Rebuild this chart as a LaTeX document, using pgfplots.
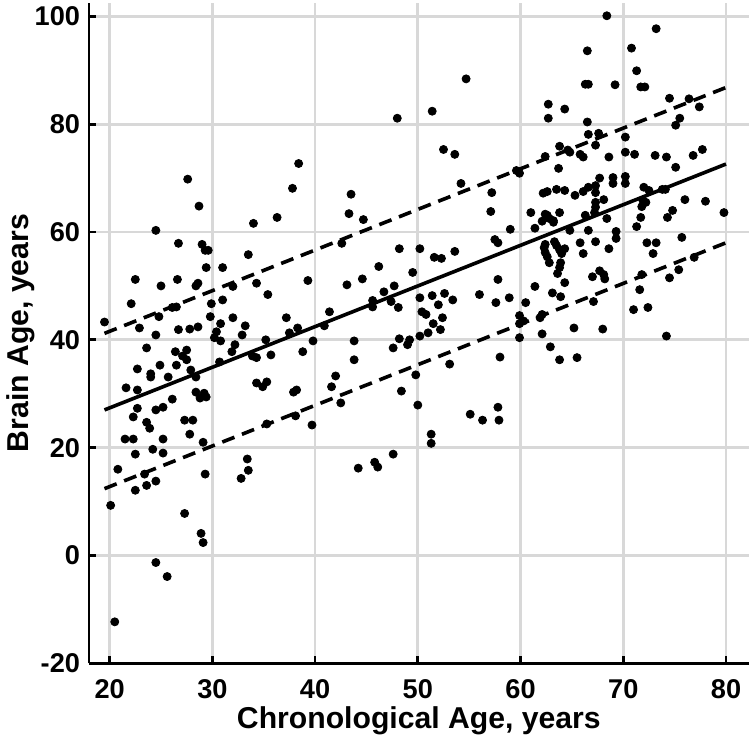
\documentclass[border=0pt]{standalone}
\usepackage{fontspec}
\setmainfont{Liberation Sans}
\usepackage{pgfplots}
\usepackage{pgfplotstable}
\pgfplotsset{compat=1.18}
\definecolor{gridgray}{RGB}{216,216,216}

% chronological age vs predicted brain age
\pgfplotstableread{
x y
27.6 69.8
28.7 64.8
34.0 61.6
36.3 62.7
37.8 68.1
38.4 72.7
24.5 60.3
26.7 57.9
29.0 57.7
29.3 56.6
29.6 56.6
29.4 53.4
31.0 53.4
33.5 55.8
22.5 51.2
25.0 50.0
26.6 51.2
28.4 50.0
28.6 50.5
32.0 49.9
34.3 50.5
35.4 48.4
22.1 46.7
26.1 46.0
26.5 46.1
24.8 44.3
29.9 46.7
31.0 47.4
29.8 44.3
32.0 44.1
30.8 43.0
33.2 42.6
37.2 44.1
19.5 43.3
22.9 42.2
26.7 41.9
27.8 42.0
28.6 42.4
24.5 40.9
30.4 41.5
32.9 40.9
37.5 41.3
38.3 42.2
30.2 40.4
30.8 39.8
35.2 40.0
23.6 38.5
26.4 37.8
27.5 38.1
32.2 39.1
31.9 37.8
27.1 37.0
27.5 36.3
26.5 35.3
24.9 35.3
22.7 34.6
27.9 34.4
30.7 35.9
33.9 37.0
34.3 36.7
35.7 37.2
24.0 33.7
24.0 33.1
25.7 33.1
28.4 33.1
21.6 31.1
22.7 30.7
28.4 30.3
29.2 30.1
28.8 29.2
29.4 29.4
34.3 32.0
34.9 31.3
35.3 32.2
37.9 30.3
26.1 29.0
22.7 27.3
24.5 27.0
25.2 27.5
22.3 25.7
23.6 24.7
23.9 23.6
27.3 25.1
28.1 25.1
27.8 22.5
21.5 21.6
22.3 21.6
25.2 21.6
29.1 21.0
24.2 19.7
35.3 24.4
38.1 25.9
22.5 18.8
25.2 19.0
20.8 16.0
23.4 15.1
23.6 13.0
24.5 13.8
22.5 12.1
29.3 15.1
33.4 17.9
33.5 15.8
32.8 14.3
20.1 9.3
27.3 7.8
28.9 4.1
29.1 2.4
24.5 -1.3
25.6 -3.9
20.5 -12.3
54.7 88.4
51.4 82.4
48.0 81.1
52.5 75.3
53.6 74.4
43.5 67.0
43.3 63.4
44.7 62.3
54.2 69.0
57.2 67.3
57.1 63.8
59.6 71.4
59.9 70.9
59.0 60.5
42.6 57.9
48.2 56.9
50.2 56.9
51.6 55.3
52.3 55.1
53.6 56.4
46.2 53.6
49.5 52.5
39.3 51.0
43.1 50.2
44.6 51.3
47.7 50.0
46.7 48.9
57.5 58.6
57.8 58.0
57.8 51.2
45.6 47.3
45.6 46.1
47.4 47.1
48.1 46.0
50.2 47.8
51.4 48.2
52.0 46.5
52.6 48.6
53.4 47.4
56.0 48.4
57.6 46.9
58.9 47.8
41.4 45.2
50.4 45.2
50.8 44.7
52.4 44.1
51.5 43.0
52.2 41.9
51.0 41.3
50.2 40.7
40.9 42.6
39.8 39.8
38.8 37.8
43.8 39.8
43.8 36.3
48.2 40.2
49.2 40.0
49.0 39.1
47.6 38.5
53.1 35.5
58.0 36.8
59.9 44.5
59.9 43.0
59.9 40.4
42.0 33.3
41.6 31.3
42.5 28.3
38.2 30.7
39.7 24.2
49.8 33.5
48.4 30.5
50.0 27.9
51.3 22.5
51.3 20.8
55.1 26.2
56.3 25.1
57.8 27.5
57.9 25.1
44.2 16.2
45.8 17.3
46.1 16.4
47.6 18.8
68.4 100.1
73.2 97.7
66.5 93.6
70.8 94.1
71.3 89.9
71.7 86.9
72.1 86.9
66.3 87.4
66.6 87.4
69.2 87.3
62.7 83.7
62.7 81.1
64.3 82.8
66.5 80.4
74.5 84.8
76.4 84.7
77.4 83.2
75.5 81.1
75.1 79.8
66.6 78.1
67.6 78.3
70.2 77.6
67.3 76.1
63.8 75.9
64.6 75.2
64.8 74.8
65.8 74.4
66.1 73.9
62.4 74.0
68.6 73.9
70.2 74.8
71.1 74.4
73.1 74.2
74.2 73.9
75.1 72.0
76.8 74.2
77.7 75.3
63.7 71.8
67.7 70.0
69.0 70.1
69.0 69.0
70.2 70.3
70.2 69.0
62.2 67.2
62.6 67.5
63.5 67.9
64.3 67.7
65.3 66.8
66.1 67.5
66.6 68.3
67.3 68.6
67.3 67.3
68.1 66.0
67.3 65.5
67.3 64.6
72.0 68.3
72.5 67.7
73.8 67.9
74.1 67.9
71.9 65.9
72.2 65.5
71.8 64.7
76.0 66.0
78.0 65.7
79.8 63.6
61.0 63.6
62.4 63.3
62.6 63.1
62.8 62.5
63.2 62.1
63.8 63.6
62.1 62.0
66.3 63.1
67.2 63.6
68.4 62.5
74.8 64.0
74.3 62.7
71.7 62.7
71.3 61.0
61.4 60.7
63.2 61.8
64.8 60.3
66.6 60.3
69.3 60.1
69.3 58.8
62.4 57.7
62.3 57.1
62.4 56.2
62.6 55.4
62.8 54.3
63.3 58.2
63.5 57.5
63.8 56.7
64.0 56.0
64.3 56.9
65.8 58.0
66.1 56.0
67.3 58.2
68.6 56.9
63.9 54.3
63.8 53.4
63.6 52.3
72.3 58.0
73.2 58.0
72.9 56.0
75.7 59.0
76.9 55.3
75.4 53.0
74.5 51.5
71.8 52.1
71.6 49.3
71.0 45.6
72.4 46.0
74.2 40.7
67.0 51.7
67.7 52.8
68.1 52.1
68.2 51.3
64.3 50.6
61.4 49.9
63.1 48.7
63.9 48.0
67.1 47.1
60.5 46.9
60.3 43.5
61.9 44.1
62.1 44.7
62.1 41.1
62.9 38.7
63.8 36.3
65.2 42.2
65.5 36.7
68.0 42.0
}\brainage

\begin{document}
\begin{tikzpicture}
\begin{axis}[
  scale only axis, width=328pt, height=328.5pt,
  xmin=18, xmax=82.2, ymin=-20, ymax=102.5,
  axis lines=left,
  axis line style={-, line width=1.4pt, black},
  xtick={20,30,...,80}, ytick={-20,0,...,100},
  yticklabels={-20,0,20,40,60,80,100},
  tick align=inside, major tick length=3.5pt,
  tick style={line width=1.4pt, black},
  grid=major, major grid style={gridgray, line width=1.4pt},
  /pgf/number format/assume math mode=true,
  tick label style={font=\bfseries\fontsize{13.5}{13.5}\selectfont},
  xticklabel style={yshift=-4.5pt},
  yticklabel style={xshift=-1pt},
  xlabel={Chronological Age, years},
  ylabel={Brain Age, years},
  label style={font=\bfseries\fontsize{15}{15}\selectfont},
  xlabel style={yshift=3pt},
  ylabel style={yshift=-7pt},
]
\addplot[only marks, mark=*, mark size=2pt, black] table {\brainage};
\addplot[black, line width=1.8pt] coordinates {(19.5,27.0) (80,72.6)};
\addplot[black, line width=1.8pt, dash pattern=on 6.5pt off 4pt] coordinates {(19.5,41.2) (80,86.8)};
\addplot[black, line width=1.8pt, dash pattern=on 6.5pt off 4pt] coordinates {(19.5,12.4) (80,58.0)};
\end{axis}
\end{tikzpicture}
\end{document}
